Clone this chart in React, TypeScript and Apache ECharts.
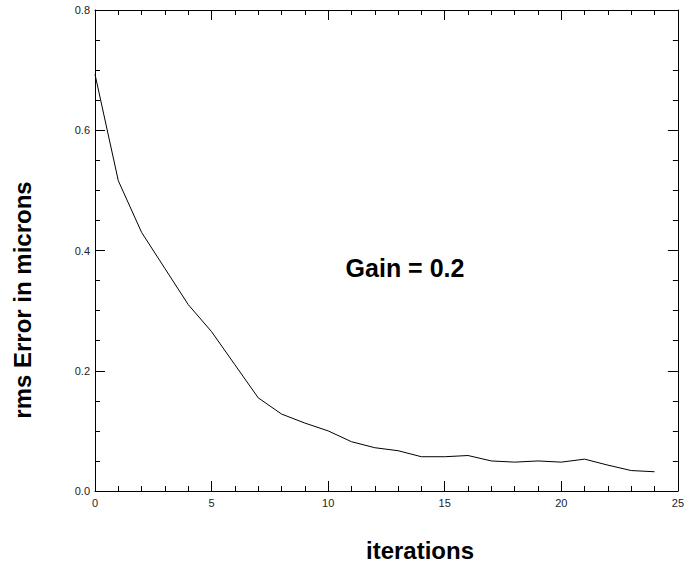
import React, { useEffect, useRef } from "react";
import * as echarts from "echarts";

const iterations = [0, 1, 2, 3, 4, 5, 6, 7, 8, 9, 10, 11, 12, 13, 14, 15, 16, 17, 18, 19, 20, 21, 22, 23, 24];
const rmsError = [
  0.693, 0.516, 0.43, 0.37, 0.31, 0.265, 0.21, 0.155, 0.128, 0.113, 0.1, 0.082, 0.072,
  0.067, 0.057, 0.057, 0.059, 0.05, 0.048, 0.05, 0.048, 0.053, 0.043, 0.034, 0.032,
];
const xTicks = { min: 0, max: 25, interval: 5 };
const yTicks = { min: 0, max: 0.8, interval: 0.2 };
const xTitle = "iterations";
const yTitle = "rms Error in microns";
const annotation = "Gain = 0.2";

const FONT = "'Liberation Sans', Arial, Helvetica, sans-serif";

export default function App() {
  const ref = useRef<HTMLDivElement>(null);
  useEffect(() => {
    if (!ref.current) return;
    const chart = echarts.init(ref.current, null, { renderer: "svg" });
    const axisLine = { show: true, onZero: false, lineStyle: { color: "#000", width: 1 } };
    const tickStyle = { lineStyle: { color: "#000", width: 1 } };
    const labelStyle = { color: "#222", fontSize: 11, fontFamily: FONT };
    const xBase = {
      type: "value" as const,
      min: xTicks.min,
      max: xTicks.max,
      interval: xTicks.interval,
      axisLine,
      splitLine: { show: false },
      axisTick: { show: true, inside: true, length: 10, ...tickStyle },
      minorTick: { show: true, splitNumber: 5, length: 5, ...tickStyle },
    };
    const yBase = {
      type: "value" as const,
      min: yTicks.min,
      max: yTicks.max,
      interval: yTicks.interval,
      axisLine,
      splitLine: { show: false },
      axisTick: { show: true, inside: true, length: 10, ...tickStyle },
      minorTick: { show: true, splitNumber: 4, length: 5, ...tickStyle },
    };
    chart.setOption({
      animation: false,
      backgroundColor: "#fff",
      grid: { left: 95, right: 3, top: 10, bottom: 74, containLabel: false },
      xAxis: [
        { ...xBase, position: "bottom", axisLabel: { ...labelStyle, margin: 6 } },
        { ...xBase, position: "top", axisLabel: { show: false } },
      ],
      yAxis: [
        {
          ...yBase,
          position: "left",
          axisLabel: { ...labelStyle, margin: 5, formatter: (v: number) => v.toFixed(1) },
        },
        { ...yBase, position: "right", axisLabel: { show: false } },
      ],
      series: [
        {
          type: "line",
          data: iterations.map((x, i) => [x, rmsError[i]]),
          showSymbol: false,
          symbol: "none",
          lineStyle: { color: "#000", width: 1 },
          xAxisIndex: 0,
          yAxisIndex: 0,
        },
      ],
      graphic: [
        {
          type: "text",
          x: 420,
          y: 550,
          style: { text: xTitle, font: `bold 24px ${FONT}`, fill: "#000", textAlign: "center", textVerticalAlign: "middle" },
        },
        {
          type: "text",
          x: 22,
          y: 300,
          rotation: Math.PI / 2,
          style: { text: yTitle, font: `bold 24px ${FONT}`, fill: "#000", textAlign: "center", textVerticalAlign: "middle" },
        },
        {
          type: "text",
          x: 405,
          y: 268,
          style: { text: annotation, font: `bold 25px ${FONT}`, fill: "#000", textAlign: "center", textVerticalAlign: "middle" },
        },
      ],
    });
    return () => chart.dispose();
  }, []);
  return <div ref={ref} style={{ position: "fixed", left: 0, top: 0, width: 687, height: 565, background: "#fff" }} />;
}
